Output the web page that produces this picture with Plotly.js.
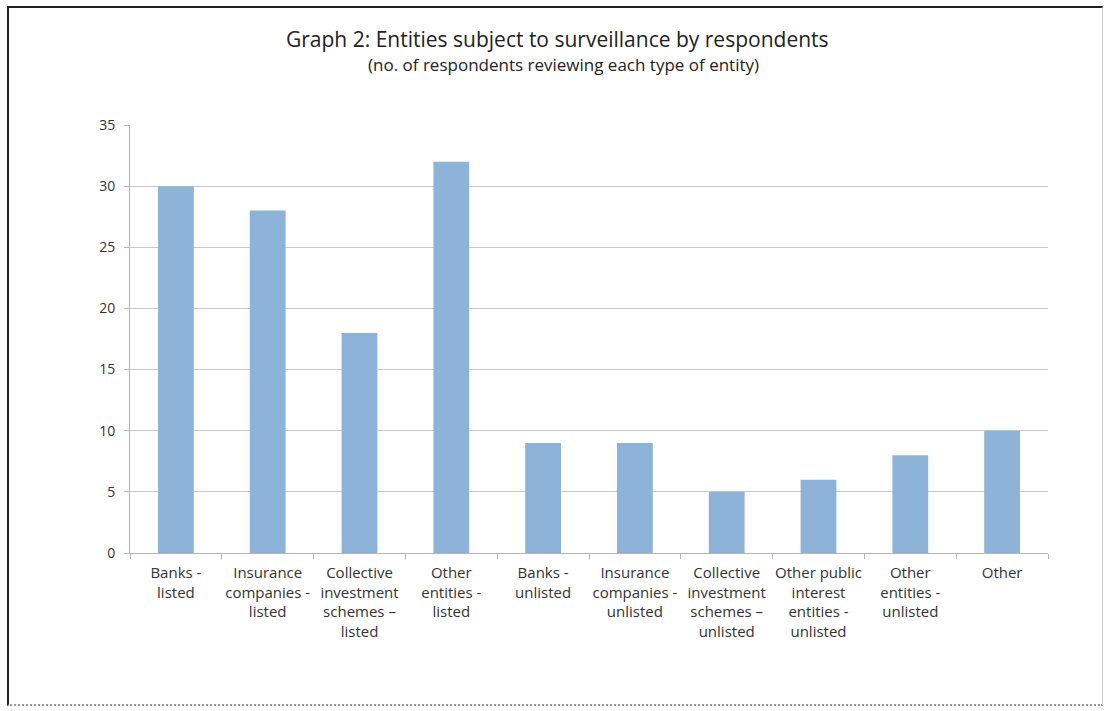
<!DOCTYPE html>
<html>
<head>
<meta charset="utf-8">
<script src="https://cdn.plot.ly/plotly-3.0.1.min.js"></script>
<style>
html,body{margin:0;padding:0;background:#fff;}
#wrap{position:relative;width:1110px;height:711px;overflow:hidden;background:#fff;}
#frame{position:absolute;left:7px;top:6px;width:1096px;height:700px;border-left:2px solid #222;border-top:2px solid #222;border-right:1px solid #ccc;border-bottom:2px dotted #999;box-sizing:border-box;pointer-events:none;}
#chart{position:absolute;left:0;top:0;width:1110px;height:711px;}
</style>
</head>
<body>
<div id="wrap">
<div id="chart"></div>
<div id="frame"></div>
</div>
<script>
const categories = [
  "Banks -<br>listed",
  "Insurance<br>companies -<br>listed",
  "Collective<br>investment<br>schemes –<br>listed",
  "Other<br>entities -<br>listed",
  "Banks -<br>unlisted",
  "Insurance<br>companies -<br>unlisted",
  "Collective<br>investment<br>schemes –<br>unlisted",
  "Other public<br>interest<br>entities -<br>unlisted",
  "Other<br>entities -<br>unlisted",
  "Other"
];
const respondents = [30, 28, 18, 32, 9, 9, 5, 6, 8, 10];
const yTicks = [0, 5, 10, 15, 20, 25, 30, 35];
const titleText = "Graph 2: Entities subject to surveillance by respondents";
const subtitleText = "(no. of respondents reviewing each type of entity)";

const font = "'Open Sans', 'Liberation Sans', sans-serif";

const trace = {
  type: 'bar',
  x: categories,
  y: respondents,
  marker: {color: '#8db3d8', line: {width: 0}},
  hoverinfo: 'x+y'
};

const layout = {
  width: 1110,
  height: 711,
  margin: {l: 130, r: 62, t: 125, b: 158},
  paper_bgcolor: 'rgba(0,0,0,0)',
  plot_bgcolor: '#fff',
  bargap: 0.61,
  showlegend: false,
  font: {family: font, color: '#333', size: 14},
  xaxis: {
    type: 'category',
    showgrid: false,
    showline: true,
    linecolor: '#b5b5b5',
    linewidth: 1,
    ticks: 'outside',
    tickson: 'boundaries',
    ticklen: 5,
    tickcolor: '#b5b5b5',
    tickangle: 0,
    ticklabelstandoff: 6,
    tickfont: {family: font, size: 15, color: '#333'},
    automargin: false
  },
  yaxis: {
    range: [0, 35],
    tickvals: yTicks,
    ticktext: yTicks.map(String),
    showgrid: true,
    gridcolor: '#c8c8c8',
    gridwidth: 1,
    zeroline: false,
    showline: true,
    linecolor: '#b5b5b5',
    ticks: 'outside',
    ticklen: 5,
    tickcolor: '#b5b5b5',
    ticklabelstandoff: 6,
    tickfont: {family: font, size: 14, color: '#333'},
    automargin: false
  },
  annotations: [
    {text: titleText, xref: 'paper', yref: 'paper', x: 0.466, y: 1, yshift: 86,
     showarrow: false, xanchor: 'center', yanchor: 'middle',
     font: {family: font, size: 21, color: '#222'}},
    {text: subtitleText, xref: 'paper', yref: 'paper', x: 0.472, y: 1, yshift: 61,
     showarrow: false, xanchor: 'center', yanchor: 'middle',
     font: {family: font, size: 17, color: '#222'}}
  ]
};

Plotly.newPlot('chart', [trace], layout, {displayModeBar: false, staticPlot: false});
</script>
</body>
</html>
